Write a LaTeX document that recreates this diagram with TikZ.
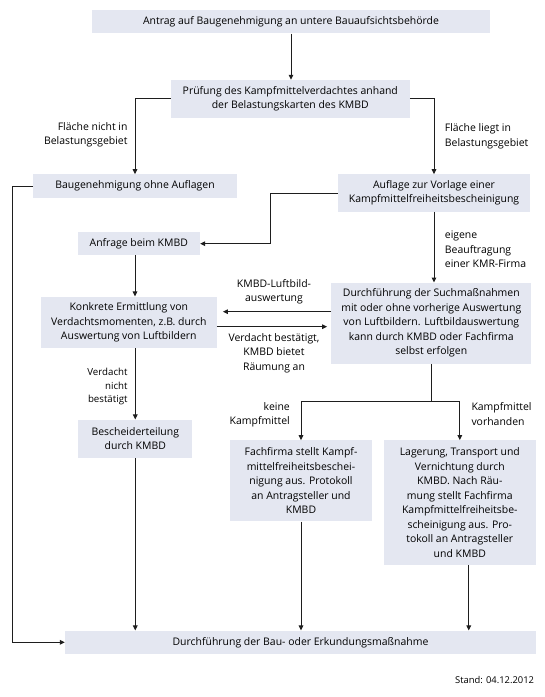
\documentclass[tikz,border=0pt]{standalone}
\usepackage{fontspec}
\setmainfont{Open Sans}
\usetikzlibrary{arrows.meta}
\definecolor{boxfill}{RGB}{228,231,241}
\definecolor{linec}{RGB}{30,30,30}
\tikzset{
  box/.style={fill=boxfill, draw=none, inner sep=0pt, align=center,
    font=\fontsize{10.45}{14.5}\selectfont, text=black},
  lbl/.style={inner sep=0pt, font=\fontsize{10.45}{14.5}\selectfont, text=black},
  conn/.style={draw=linec, line width=1pt},
  arr/.style={conn, -{Triangle[length=5pt,width=4.6pt]}}
}
\begin{document}
\begin{tikzpicture}[x=1pt,y=-1pt]
\useasboundingbox (0,0) rectangle (545,697);
% boxes
\node[box, minimum width=398.6pt, minimum height=23.3pt] (b1) at (291,21.7)
  {Antrag auf Baugenehmigung an untere Bauaufsichtsbehörde};
\node[box, minimum width=238.7pt, minimum height=37.7pt] (b2) at (290.3,98.8)
  {Prüfung des Kampfmittelverdachtes anhand\\der Belastungskarten des KMBD};
\node[box, minimum width=203.4pt, minimum height=23.4pt] (b3) at (135,186)
  {Baugenehmigung ohne Auflagen};
\node[box, minimum width=192.6pt, minimum height=37.4pt] (b4) at (434,193)
  {Auflage zur Vorlage einer\\Kampfmittelfreiheitsbescheinigung};
\node[box, minimum width=122.3pt, minimum height=22.7pt] (b5) at (138.8,243.7)
  {Anfrage beim KMBD};
\node[box, minimum width=200pt, minimum height=81pt] (b6) at (431.3,323.2)
  {Durchführung der Suchmaßnahmen\\mit oder ohne vorherige Auswertung\\von Luftbildern. Luftbildauswertung\\kann durch KMBD oder Fachfirma\\selbst erfolgen};
\node[box, minimum width=175.7pt, minimum height=51.3pt] (b7) at (128.8,322.3)
  {Konkrete Ermittlung von\\Verdachtsmomenten, z.B. durch\\Auswertung von Luftbildern};
\node[box, minimum width=114pt, minimum height=38.3pt] (b8) at (135.3,438.8)
  {Bescheiderteilung\\durch KMBD};
\node[box, minimum width=142pt, minimum height=81pt] (b9) at (301,480.8)
  {Fachfirma stellt Kampf-\\mittelfreiheitsbeschei-\\nigung aus. Protokoll\\an Antragsteller und\\KMBD};
\node[box, minimum width=152.3pt, minimum height=124.4pt] (b10) at (459.8,502.5)
  {Lagerung, Transport und\\Vernichtung durch\\KMBD. Nach Räu-\\mung stellt Fachfirma\\Kampfmittelfreiheitsbe-\\scheinigung aus. Pro-\\tokoll an Antragsteller\\und KMBD};
\node[box, minimum width=471pt, minimum height=23.3pt] (b11) at (300.5,642.3)
  {Durchführung der Bau- oder Erkundungsmaßnahme};
% labels
\node[lbl, align=right, anchor=east] (l1) at (127.7,135) {Fläche nicht in\\Belastungsgebiet};
\node[lbl, align=left, anchor=west] (l2) at (444.7,136.5) {Fläche liegt in\\Belastungsgebiet};
\node[lbl, align=left, anchor=west] (l3) at (444.7,249.5) {eigene\\Beauftragung\\einer KMR-Firma};
\node[lbl, align=center] (l4) at (274,291.7) {KMBD-Luftbild-\\auswertung};
\node[lbl, align=center] (l5) at (274,352.9) {Verdacht bestätigt,\\KMBD bietet\\Räumung an};
\node[lbl, align=right, anchor=east, font=\fontsize{9.7}{13.6}\selectfont] (l6) at (127.7,386.5) {Verdacht\\nicht\\bestätigt};
\node[lbl, align=right, anchor=east] (l7) at (290,414.7) {keine\\Kampfmittel};
\node[lbl, align=left, anchor=west] (l8) at (471.3,413.8) {Kampfmittel\\vorhanden};
\node[lbl, anchor=east, font=\fontsize{9.4}{12}\selectfont] (stand) at (534.3,680.3) {Stand: 04.12.2012};
% connectors
\draw[arr] (b1.south) -- (b1.south |- b2.north);
\draw[arr] (b2.west) -| (b3.north);
\draw[arr] (b2.east) -| (b4.north);
\draw[arr] (b4.west) -- ++(-67,0) |- (b5.east);
\draw[arr] (b4.south) -- (b4.south |- b6.north);
\draw[arr] (b3.north |- b5.south) -- (b3.north |- b7.north);
\draw[arr, shorten >=6pt] ([yshift=11.5pt]b6.west) -- ([yshift=11.5pt]b6.west -| b7.east);
\draw[arr, shorten >=4pt] ([yshift=-4.4pt]b7.east) -- ([yshift=-4.4pt]b7.east -| b6.west);
\draw[arr] (b8.north |- b7.south) -- (b8.north);
\draw[arr] (b8.south) -- (b8.south |- b11.north);
\draw[conn] (b6.south) -- ++(0,37.6) coordinate (j);
\draw[arr] (j) -| (b9.north);
\draw[arr] (j) -| (b10.north);
\draw[arr] (b9.south) -- (b9.south |- b11.north);
\draw[arr] ([xshift=9pt]b10.south) -- ([xshift=9pt]b10.south |- b11.north);
\draw[arr] (b3.west) -- ++(-21,0) |- (b11.west);
\end{tikzpicture}
\end{document}
